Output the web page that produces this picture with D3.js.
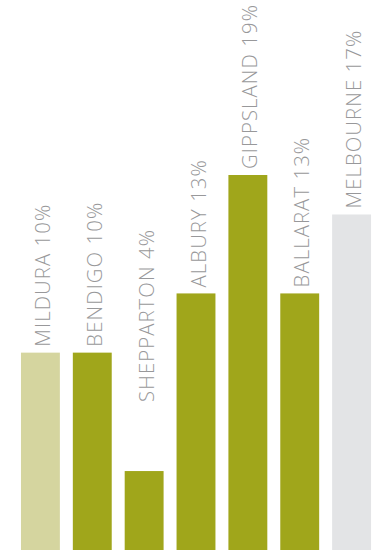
<!DOCTYPE html>
<html><head><meta charset="utf-8">
<script src="https://cdn.jsdelivr.net/npm/d3@7"></script>
<style>html,body{margin:0;padding:0;background:#fff}svg{display:block}</style>
</head><body>
<svg id="c" width="390" height="550"></svg>
<script>
const categories = ["MILDURA", "BENDIGO", "SHEPPARTON", "ALBURY", "GIPPSLAND", "BALLARAT", "MELBOURNE"];
const values = [10, 10, 4, 13, 19, 13, 17];
const colors = ["#d5d59f", "#a0a61b", "#a0a61b", "#a0a61b", "#a0a61b", "#a0a61b", "#e3e4e6"];

const W = 390, H = 550;
const svg = d3.select("#c");
const x = d3.scaleBand().domain(categories).range([8, 384]).paddingInner(0.25).paddingOuter(0.25);
const y = d3.scaleLinear().domain([0, 19]).range([H, 175]);
const minLabelValue = 7.2;

svg.selectAll("rect").data(categories).join("rect")
  .attr("x", d => x(d)).attr("width", x.bandwidth())
  .attr("y", (d, i) => y(values[i])).attr("height", (d, i) => H - y(values[i]))
  .attr("fill", (d, i) => colors[i]);

svg.selectAll("text.lbl").data(categories).join("text").attr("class", "lbl")
  .attr("transform", (d, i) => `translate(${x(d) + 29},${Math.min(y(values[i]), y(minLabelValue)) - 6}) rotate(-90)`)
  .attr("font-family", "'Open Sans', sans-serif").attr("font-weight", 300)
  .attr("font-size", 20.3).attr("letter-spacing", 1.1).attr("fill", "#98989a")
  .text((d, i) => `${d} ${values[i]}%`);
</script>
</body></html>
